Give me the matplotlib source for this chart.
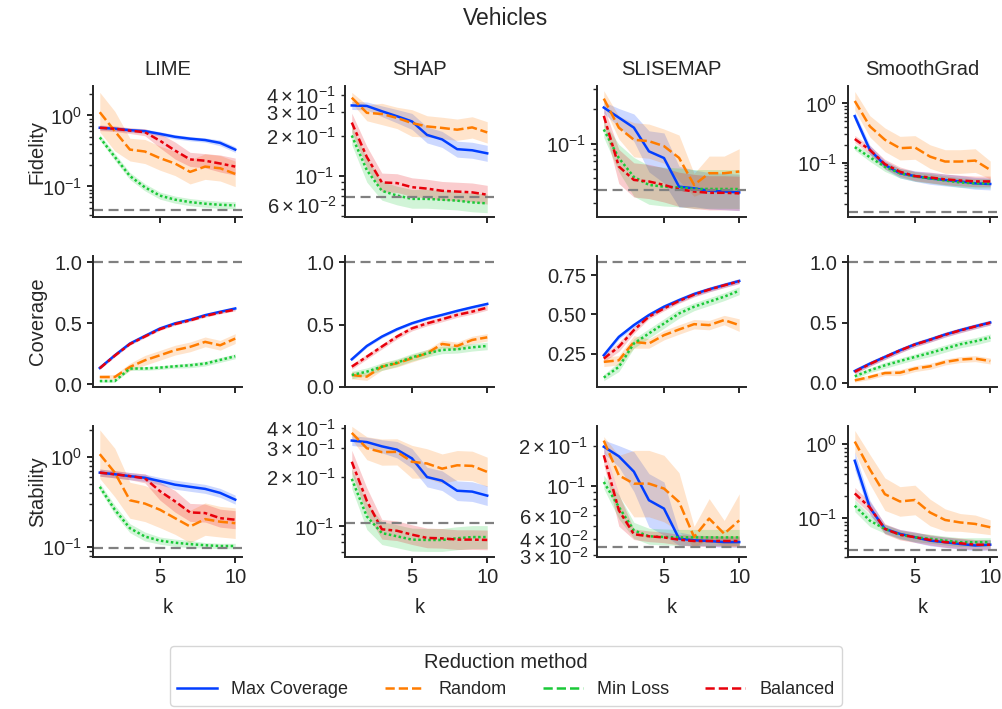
#imports
import matplotlib
matplotlib.use("Agg")
import matplotlib.pyplot as plt
from matplotlib.lines import Line2D
import numpy as np

#data
k = np.arange(1, 11)
methods = ["Max Coverage", "Random", "Min Loss", "Balanced"]
explainers = ["LIME", "SHAP", "SLISEMAP", "SmoothGrad"]
metrics = ["Fidelity", "Coverage", "Stability"]

# each panel: rows = Max Coverage, Random, Min Loss, Balanced
fid_lime = [[0.67, 0.65, 0.62, 0.60, 0.55, 0.50, 0.47, 0.45, 0.41, 0.33],
            [1.11, 0.60, 0.33, 0.31, 0.25, 0.21, 0.16, 0.19, 0.18, 0.15],
            [0.49, 0.26, 0.14, 0.097, 0.074, 0.065, 0.060, 0.057, 0.055, 0.054],
            [0.67, 0.65, 0.61, 0.58, 0.44, 0.32, 0.24, 0.23, 0.21, 0.19]]
fid_shap = [[0.336, 0.333, 0.304, 0.279, 0.255, 0.202, 0.187, 0.158, 0.155, 0.147],
            [0.384, 0.296, 0.29, 0.271, 0.248, 0.234, 0.228, 0.221, 0.23, 0.211],
            [0.20, 0.11, 0.077, 0.071, 0.067, 0.067, 0.066, 0.065, 0.063, 0.062],
            [0.25, 0.138, 0.089, 0.088, 0.082, 0.080, 0.077, 0.076, 0.075, 0.072]]
fid_slise = [[0.207, 0.169, 0.138, 0.0855, 0.0747, 0.0419, 0.0405, 0.0386, 0.038, 0.0373],
             [0.248, 0.138, 0.108, 0.105, 0.095, 0.075, 0.0434, 0.055, 0.055, 0.0569],
             [0.133, 0.0747, 0.051, 0.0434, 0.0419, 0.0413, 0.040, 0.040, 0.040, 0.0399],
             [0.175, 0.063, 0.048, 0.0465, 0.0434, 0.0397, 0.038, 0.037, 0.037, 0.0366]]
fid_sg = [[0.61, 0.164, 0.091, 0.066, 0.059, 0.054, 0.0507, 0.048, 0.0445, 0.0434],
          [1.1, 0.41, 0.243, 0.175, 0.18, 0.126, 0.104, 0.104, 0.108, 0.075],
          [0.182, 0.123, 0.085, 0.066, 0.058, 0.054, 0.0497, 0.046, 0.0445, 0.0445],
          [0.25, 0.164, 0.094, 0.07, 0.059, 0.056, 0.052, 0.0497, 0.048, 0.048]]

cov_lime = [[0.134, 0.238, 0.334, 0.397, 0.458, 0.50, 0.53, 0.567, 0.595, 0.622],
            [0.06, 0.06, 0.142, 0.197, 0.238, 0.28, 0.307, 0.348, 0.32, 0.375],
            [0.027, 0.027, 0.129, 0.13, 0.137, 0.148, 0.156, 0.17, 0.20, 0.23],
            [0.132, 0.235, 0.33, 0.392, 0.452, 0.494, 0.524, 0.56, 0.588, 0.612]]
cov_shap = [[0.222, 0.329, 0.404, 0.463, 0.511, 0.548, 0.578, 0.61, 0.639, 0.666],
            [0.096, 0.083, 0.163, 0.19, 0.23, 0.27, 0.345, 0.329, 0.377, 0.398],
            [0.096, 0.123, 0.163, 0.195, 0.238, 0.27, 0.297, 0.302, 0.318, 0.329],
            [0.163, 0.243, 0.324, 0.404, 0.47, 0.51, 0.543, 0.578, 0.604, 0.636]]
cov_slise = [[0.239, 0.356, 0.431, 0.495, 0.548, 0.59, 0.629, 0.659, 0.686, 0.712],
             [0.197, 0.207, 0.324, 0.314, 0.367, 0.403, 0.437, 0.431, 0.463, 0.431],
             [0.097, 0.165, 0.314, 0.378, 0.441, 0.505, 0.548, 0.58, 0.612, 0.65],
             [0.218, 0.293, 0.399, 0.485, 0.537, 0.585, 0.625, 0.657, 0.684, 0.71]]
cov_sg = [[0.097, 0.158, 0.214, 0.269, 0.319, 0.358, 0.40, 0.436, 0.469, 0.50],
          [0.019, 0.047, 0.08, 0.083, 0.117, 0.136, 0.172, 0.192, 0.20, 0.18],
          [0.053, 0.103, 0.144, 0.18, 0.214, 0.247, 0.283, 0.319, 0.344, 0.375],
          [0.09, 0.155, 0.212, 0.267, 0.317, 0.356, 0.398, 0.434, 0.467, 0.498]]

stab_lime = [[0.667, 0.64, 0.61, 0.585, 0.537, 0.49, 0.464, 0.44, 0.397, 0.334],
             [1.07, 0.667, 0.329, 0.302, 0.258, 0.208, 0.168, 0.203, 0.19, 0.183],
             [0.464, 0.258, 0.161, 0.13, 0.117, 0.111, 0.107, 0.104, 0.102, 0.102],
             [0.667, 0.64, 0.61, 0.576, 0.415, 0.32, 0.241, 0.237, 0.208, 0.20]]
stab_shap = [[0.334, 0.327, 0.308, 0.294, 0.26, 0.20, 0.19, 0.165, 0.163, 0.154],
             [0.372, 0.30, 0.284, 0.285, 0.248, 0.242, 0.225, 0.236, 0.234, 0.215],
             [0.195, 0.115, 0.091, 0.087, 0.083, 0.0826, 0.0826, 0.0846, 0.086, 0.086],
             [0.248, 0.143, 0.096, 0.094, 0.089, 0.085, 0.0845, 0.083, 0.083, 0.0826]]
stab_slise = [[0.197, 0.167, 0.128, 0.078, 0.0675, 0.0401, 0.039, 0.0385, 0.0378, 0.0378],
              [0.219, 0.12, 0.104, 0.104, 0.0955, 0.0757, 0.0413, 0.0568, 0.0437, 0.055],
              [0.107, 0.0695, 0.0463, 0.0418, 0.0413, 0.041, 0.041, 0.041, 0.041, 0.041],
              [0.17, 0.0656, 0.0433, 0.0418, 0.041, 0.0394, 0.0385, 0.0385, 0.0385, 0.0385]]
stab_sg = [[0.60, 0.14, 0.072, 0.0616, 0.0555, 0.05, 0.0476, 0.045, 0.043, 0.044],
           [1.09, 0.46, 0.212, 0.169, 0.177, 0.12, 0.095, 0.088, 0.084, 0.0757],
           [0.148, 0.093, 0.072, 0.06, 0.0555, 0.053, 0.05, 0.0476, 0.0476, 0.0476],
           [0.217, 0.14, 0.072, 0.06, 0.0555, 0.051, 0.0476, 0.046, 0.044, 0.044]]

# band half widths (decades for log rows, absolute for coverage)
fid_lime_err = [[0.03] * 8 + [0.04, 0.04],
                [0.28, 0.28, 0.16, 0.17, 0.17, 0.17, 0.17, 0.18, 0.18, 0.18],
                [0.04] + [0.05] * 9,
                [0.04, 0.04, 0.04, 0.05, 0.10, 0.12, 0.10, 0.10, 0.12, 0.12]]
fid_shap_err = [[0.03, 0.03, 0.04, 0.05, 0.06, 0.06, 0.06, 0.06, 0.06, 0.06],
                [0.04, 0.06, 0.08, 0.08, 0.10, 0.08, 0.08, 0.08, 0.08, 0.08],
                [0.07, 0.09, 0.07, 0.07, 0.07, 0.07, 0.07, 0.07, 0.07, 0.07],
                [0.07, 0.08, 0.07, 0.07, 0.07, 0.07, 0.07, 0.07, 0.07, 0.07]]
fid_slise_err = [[0.05, 0.08, 0.12, 0.18, 0.22, 0.18, 0.16, 0.16, 0.16, 0.16],
                 [0.07, 0.10, 0.15, 0.15, 0.15, 0.20, 0.10, 0.15, 0.15, 0.20],
                 [0.07, 0.12, 0.17, 0.17, 0.17, 0.17, 0.17, 0.17, 0.17, 0.17],
                 [0.08, 0.15, 0.15, 0.15, 0.15, 0.15, 0.15, 0.15, 0.15, 0.15]]
fid_sg_err = [[0.07, 0.08, 0.07, 0.08, 0.09, 0.10, 0.10, 0.10, 0.10, 0.10],
              [0.16, 0.18, 0.20, 0.20, 0.20, 0.20, 0.20, 0.20, 0.20, 0.15],
              [0.05, 0.07, 0.08, 0.08, 0.08, 0.08, 0.08, 0.08, 0.08, 0.08],
              [0.06, 0.07, 0.08, 0.08, 0.08, 0.09, 0.09, 0.09, 0.09, 0.09]]

cov_lime_err = [[0.01] * 10,
                [0.015, 0.02, 0.03, 0.04, 0.04, 0.04, 0.04, 0.04, 0.04, 0.04],
                [0.01, 0.01, 0.015, 0.015, 0.015, 0.015, 0.02, 0.02, 0.02, 0.02],
                [0.01] * 10]
cov_shap_err = [[0.012] * 10,
                [0.03] * 10,
                [0.03] * 10,
                [0.02] * 10]
cov_slise_err = [[0.015] * 10,
                 [0.03, 0.03, 0.04, 0.03, 0.03, 0.03, 0.03, 0.03, 0.03, 0.04],
                 [0.02, 0.03, 0.03, 0.03, 0.03, 0.03, 0.025, 0.025, 0.025, 0.025],
                 [0.02, 0.03, 0.02, 0.015, 0.015, 0.015, 0.015, 0.015, 0.015, 0.015]]
cov_sg_err = [[0.02] * 10,
              [0.015, 0.02, 0.02, 0.025, 0.025, 0.025, 0.025, 0.025, 0.025, 0.025],
              [0.02, 0.02, 0.025, 0.025, 0.025, 0.03, 0.03, 0.03, 0.03, 0.03],
              [0.02] * 10]

stab_lime_err = [[0.04] * 5 + [0.05] * 5,
                 [0.27, 0.27, 0.20, 0.20, 0.20, 0.18, 0.18, 0.18, 0.17, 0.17],
                 [0.04, 0.05, 0.05, 0.05, 0.04, 0.04, 0.04, 0.03, 0.03, 0.03],
                 [0.04, 0.04, 0.04, 0.05, 0.10, 0.12, 0.10, 0.10, 0.10, 0.10]]
stab_shap_err = [[0.03, 0.03, 0.04, 0.05, 0.06, 0.06, 0.06, 0.06, 0.06, 0.06],
                 [0.04, 0.07, 0.08, 0.08, 0.10, 0.09, 0.09, 0.09, 0.09, 0.09],
                 [0.06, 0.08, 0.07, 0.07, 0.07, 0.07, 0.07, 0.07, 0.07, 0.07],
                 [0.07, 0.08, 0.06, 0.06, 0.06, 0.06, 0.06, 0.06, 0.06, 0.06]]
stab_slise_err = [[0.05, 0.08, 0.15, 0.20, 0.20, 0.05, 0.04, 0.04, 0.04, 0.04],
                  [0.03, 0.15, 0.25, 0.25, 0.25, 0.22, 0.08, 0.15, 0.10, 0.20],
                  [0.05, 0.09, 0.06, 0.06, 0.06, 0.06, 0.06, 0.06, 0.06, 0.06],
                  [0.07, 0.12, 0.04, 0.04, 0.04, 0.04, 0.04, 0.04, 0.04, 0.04]]
stab_sg_err = [[0.12, 0.10, 0.06, 0.06, 0.07, 0.07, 0.07, 0.07, 0.07, 0.07],
               [0.15, 0.20, 0.22, 0.20, 0.20, 0.18, 0.15, 0.12, 0.12, 0.10],
               [0.08, 0.08, 0.06, 0.06, 0.06, 0.06, 0.06, 0.06, 0.06, 0.06],
               [0.08, 0.08, 0.07, 0.07, 0.07, 0.07, 0.07, 0.07, 0.07, 0.07]]

# reference (dashed grey) values per panel
fid_ref = [0.046, 0.0697, 0.039, 0.0146]
cov_ref = [1.0, 1.0, 0.831, 1.0]
stab_ref = [0.0975, 0.105, 0.0347, 0.0375]

fid_ylim = [(0.037, 2.6), (0.049, 0.47), (0.0227, 0.32), (0.012, 1.97)]
cov_ylim = [(-0.022, 1.052), (0.0, 1.05), (0.037, 0.871), (-0.036, 1.053)]
stab_ylim = [(0.077, 2.2), (0.065, 0.41), (0.0292, 0.282), (0.030, 1.77)]

grid_means = [[fid_lime, fid_shap, fid_slise, fid_sg],
              [cov_lime, cov_shap, cov_slise, cov_sg],
              [stab_lime, stab_shap, stab_slise, stab_sg]]
grid_errs = [[fid_lime_err, fid_shap_err, fid_slise_err, fid_sg_err],
             [cov_lime_err, cov_shap_err, cov_slise_err, cov_sg_err],
             [stab_lime_err, stab_shap_err, stab_slise_err, stab_sg_err]]
refs = [fid_ref, cov_ref, stab_ref]
ylims = [fid_ylim, cov_ylim, stab_ylim]

#style
colors = ['#023eff', '#ff7c00', '#1ac938', '#e8000b']
dashes = [(None, None), (4, 1.5), (1, 1), (3, 1.25, 1.5, 1.25)]
ink = '#262626'
plt.rcParams['font.family'] = ['Liberation Sans', 'DejaVu Sans']
plt.rcParams['mathtext.fontset'] = 'custom'
plt.rcParams['mathtext.rm'] = 'Liberation Sans'
plt.rcParams['mathtext.it'] = 'Liberation Sans:italic'
plt.rcParams['mathtext.bf'] = 'Liberation Sans:bold'
plt.rcParams['text.color'] = ink
plt.rcParams['axes.labelcolor'] = ink
plt.rcParams['xtick.color'] = ink
plt.rcParams['ytick.color'] = ink

W, H = 1002, 709
fig = plt.figure(figsize=(W / 100, H / 100), dpi=100)
lefts = [93, 345, 597, 848]
tops = [86, 256, 426]
aw, ah = 149, 131

for r in range(3):
    for c in range(4):
        ax = fig.add_axes([lefts[c] / W, 1 - (tops[r] + ah) / H, aw / W, ah / H])
        log = r != 1
        for m in range(4):
            y = np.array(grid_means[r][c][m])
            e = np.array(grid_errs[r][c][m])
            if log:
                lo, hi = y / 10 ** e, y * 10 ** e
            else:
                lo, hi = y - e, y + e
            ax.fill_between(k, lo, hi, color=colors[m], alpha=0.2, lw=0)
            line, = ax.plot(k, y, color=colors[m], lw=1.8)
            if dashes[m][0] is not None:
                line.set_dashes(dashes[m])
        ax.axhline(refs[r][c], color='grey', ls='--', lw=1.6, dashes=(4.5, 2.5))
        if log:
            ax.set_yscale('log')
        ax.set_ylim(*ylims[r][c])
        ax.set_xlim(0.55, 10.45)
        ax.set_xticks([5, 10])
        for s in ['top', 'right']:
            ax.spines[s].set_visible(False)
        for s in ['left', 'bottom']:
            ax.spines[s].set_linewidth(1.4)
            ax.spines[s].set_color(ink)
        ax.tick_params(which='both', labelsize=14.5)
        ax.tick_params(which='major', length=4.5, width=1.4)
        ax.tick_params(which='minor', length=3, width=1.0)
        if r < 2:
            ax.tick_params(axis='x', labelbottom=False)
        else:
            ax.set_xlabel('k', fontsize=14.5, labelpad=8)
        if r == 0:
            ax.set_title(explainers[c], fontsize=14.5, pad=8)
        if c == 0:
            ax.set_ylabel(metrics[r], fontsize=14.5)
            ax.yaxis.set_label_coords(-0.31, 0.5)

fig.suptitle('Vehicles', fontsize=16.5, y=0.99, x=0.505)

handles = [Line2D([], [], color=colors[0], lw=1.8)]
for m in range(1, 4):
    handles.append(Line2D([], [], color=colors[m], lw=1.8, ls='--'))
fig.legend(handles, methods, loc='lower center', bbox_to_anchor=(0.505, -0.008),
           ncol=4, title='Reduction method', fontsize=13, title_fontsize=14.5,
           edgecolor='#cccccc', columnspacing=2.0, handlelength=2.2)

plt.savefig('out.png', dpi=100)
